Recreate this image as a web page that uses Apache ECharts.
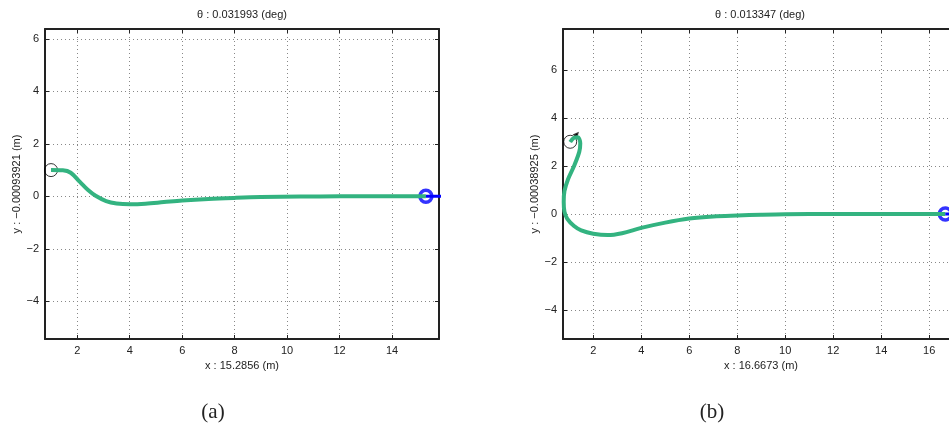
<!DOCTYPE html>
<html>
<head>
<meta charset="utf-8">
<script src="https://cdn.jsdelivr.net/npm/echarts@6/dist/echarts.min.js"></script>
<style>
  html, body { margin: 0; padding: 0; background: #fff; }
  #chart_container { width: 949px; height: 431px; }
</style>
</head>
<body>
<div id="chart_container"></div>
<script>
// panel (a) path
var pathAx = [1.0, 1.45, 1.75, 2.1, 2.4, 2.7, 3.1, 3.5, 4.0, 4.6, 5.3, 6.0, 7.0, 8.0, 9.0, 10.5, 12.0, 15.29];
var pathAy = [1.0, 0.99, 0.9, 0.55, 0.25, 0.02, -0.18, -0.27, -0.3, -0.28, -0.22, -0.16, -0.1, -0.06, -0.03, -0.01, 0, 0];
// panel (b) path
var pathBx = [1.04, 1.2, 1.35, 1.46, 1.42, 1.2, 0.95, 0.8, 0.77, 0.8, 0.92, 1.2, 1.5, 2.0, 2.6, 3.2, 4.0, 5.0, 6.0, 7.0, 8.0, 9.0, 10.0, 12.0, 16.67];
var pathBy = [3.0, 3.18, 3.2, 2.95, 2.6, 2.0, 1.45, 0.95, 0.5, 0.1, -0.2, -0.5, -0.68, -0.82, -0.88, -0.8, -0.58, -0.36, -0.19, -0.1, -0.06, -0.03, -0.01, 0, 0];

var startA = [1.0, 1.0], headA = [1.45, 1.0];
var goalA = [15.29, 0], goalHeadA = [16.0, 0];
var startB = [1.04, 3.01], headB = [1.32, 3.33];
var goalB = [16.67, 0], goalHeadB = [17.4, 0];

var xTicksA = [2, 4, 6, 8, 10, 12, 14];
var yTicksA = [-4, -2, 0, 2, 4, 6];
var xTicksB = [2, 4, 6, 8, 10, 12, 14, 16];
var yTicksB = [-4, -2, 0, 2, 4, 6];

var titleA = "θ : 0.031993 (deg)", titleB = "θ : 0.013347 (deg)";
var xNameA = "x : 15.2856 (m)", xNameB = "x : 16.6673 (m)";
var yNameA = "y : \u22120.00093921 (m)", yNameB = "y : \u22120.00038925 (m)";

var FONT = "Liberation Sans";
var green = "#33b380";

function zip(xs, ys) {
  var out = [];
  for (var i = 0; i < xs.length; i++) out.push([xs[i], ys[i]]);
  return out;
}
function fmt(ticks) {
  return function (v) {
    if (ticks.indexOf(v) < 0) return "";
    return v < 0 ? "\u2212" + Math.abs(v) : String(v);
  };
}

function makeAxes(gi, dim, min, max, split, ticks, name, gap) {
  var isX = dim == "x";
  var main = {
    type: "value", gridIndex: gi, min: min, max: max, splitNumber: split,
    position: isX ? "bottom" : "left",
    name: name, nameLocation: "middle", nameGap: gap,
    nameRotate: isX ? 0 : 90,
    nameTextStyle: { fontFamily: FONT, fontSize: 11, color: "#222" },
    axisLine: { show: true, onZero: false, lineStyle: { color: "#222", width: 2 } },
    axisTick: { show: true, inside: true, length: 4, lineStyle: { color: "#222" } },
    axisLabel: { formatter: fmt(ticks), fontFamily: FONT, fontSize: 11, color: "#222", margin: 6 },
    splitLine: { show: true, lineStyle: { color: "#888", type: [1, 3], width: 1 } }
  };
  var other = {
    type: "value", gridIndex: gi, min: min, max: max, splitNumber: split,
    position: isX ? "top" : "right",
    axisLine: { show: true, onZero: false, lineStyle: { color: "#222", width: 2 } },
    axisTick: { show: true, inside: true, length: 4, lineStyle: { color: "#222" } },
    axisLabel: { show: false },
    splitLine: { show: false }
  };
  return [main, other];
}

var chart = echarts.init(document.getElementById("chart_container"));

var xa = makeAxes(0, "x", 0.77, 15.79, 7, xTicksA, xNameA, 20);
var xb = makeAxes(1, "x", 0.74, 17.24, 8, xTicksB, xNameB, 20);
var ya = makeAxes(0, "y", -5.44, 6.38, 6, yTicksA, yNameA, 23);
var yb = makeAxes(1, "y", -5.21, 7.71, 6, yTicksB, yNameB, 23);

function ser(xi, yi, data, extra) {
  var s = { type: "line", xAxisIndex: xi, yAxisIndex: yi, data: data, symbol: "none", animation: false, silent: true };
  for (var k in extra) s[k] = extra[k];
  return s;
}

var option = {
  animation: false,
  grid: [
    { left: 45, top: 29, width: 394, height: 310, outerBoundsMode: "none", containLabel: false },
    { left: 563, top: 29, width: 396, height: 310, outerBoundsMode: "none", containLabel: false }
  ],
  xAxis: [xa[0], xa[1], xb[0], xb[1]],
  yAxis: [ya[0], ya[1], yb[0], yb[1]],
  graphic: [
    { type: "text", x: 242, y: 15, style: { text: titleA, font: "11px " + FONT, fill: "#222", align: "center", verticalAlign: "middle" } },
    { type: "text", x: 760, y: 15, style: { text: titleB, font: "11px " + FONT, fill: "#222", align: "center", verticalAlign: "middle" } },
    { type: "text", x: 213, y: 412, style: { text: "(a)", font: "21px 'Liberation Serif'", fill: "#222", align: "center", verticalAlign: "middle" } },
    { type: "text", x: 712, y: 412, style: { text: "(b)", font: "21px 'Liberation Serif'", fill: "#222", align: "center", verticalAlign: "middle" } }
  ],
  series: [
    // panel (a)
    { type: "scatter", xAxisIndex: 0, yAxisIndex: 0, data: [startA], symbol: "circle", symbolSize: 13, silent: true,
      itemStyle: { color: "rgba(0,0,0,0)", borderColor: "#000", borderWidth: 1 } },
    ser(0, 0, [startA, headA], { lineStyle: { color: "#000", width: 1.2 } }),
    ser(0, 0, zip(pathAx, pathAy), { smooth: 0.35, lineStyle: { color: green, width: 4 } }),
    ser(0, 0, [goalA, goalHeadA], { lineStyle: { color: "#0000ff", width: 3 } }),
    { type: "scatter", xAxisIndex: 0, yAxisIndex: 0, data: [goalA], symbol: "circle", symbolSize: 12, silent: true,
      itemStyle: { color: "rgba(0,0,0,0)", borderColor: "#0000ff", borderWidth: 3.5 } },
    // panel (b)
    { type: "scatter", xAxisIndex: 2, yAxisIndex: 2, data: [startB], symbol: "circle", symbolSize: 13, silent: true,
      itemStyle: { color: "rgba(0,0,0,0)", borderColor: "#000", borderWidth: 1 } },
    ser(2, 2, [startB, headB], { lineStyle: { color: "#000", width: 1.2 } }),
    { type: "scatter", xAxisIndex: 2, yAxisIndex: 2, data: [headB], symbol: "triangle", symbolSize: 6, symbolRotate: -40, silent: true,
      itemStyle: { color: "#000" } },
    ser(2, 2, zip(pathBx, pathBy), { smooth: 0.35, lineStyle: { color: green, width: 4 } }),
    ser(2, 2, [goalB, goalHeadB], { lineStyle: { color: "#0000ff", width: 3 } }),
    { type: "scatter", xAxisIndex: 2, yAxisIndex: 2, data: [goalB], symbol: "circle", symbolSize: 12, silent: true,
      itemStyle: { color: "rgba(0,0,0,0)", borderColor: "#0000ff", borderWidth: 3.5 } }
  ]
};
chart.setOption(option);
</script>
</body>
</html>
